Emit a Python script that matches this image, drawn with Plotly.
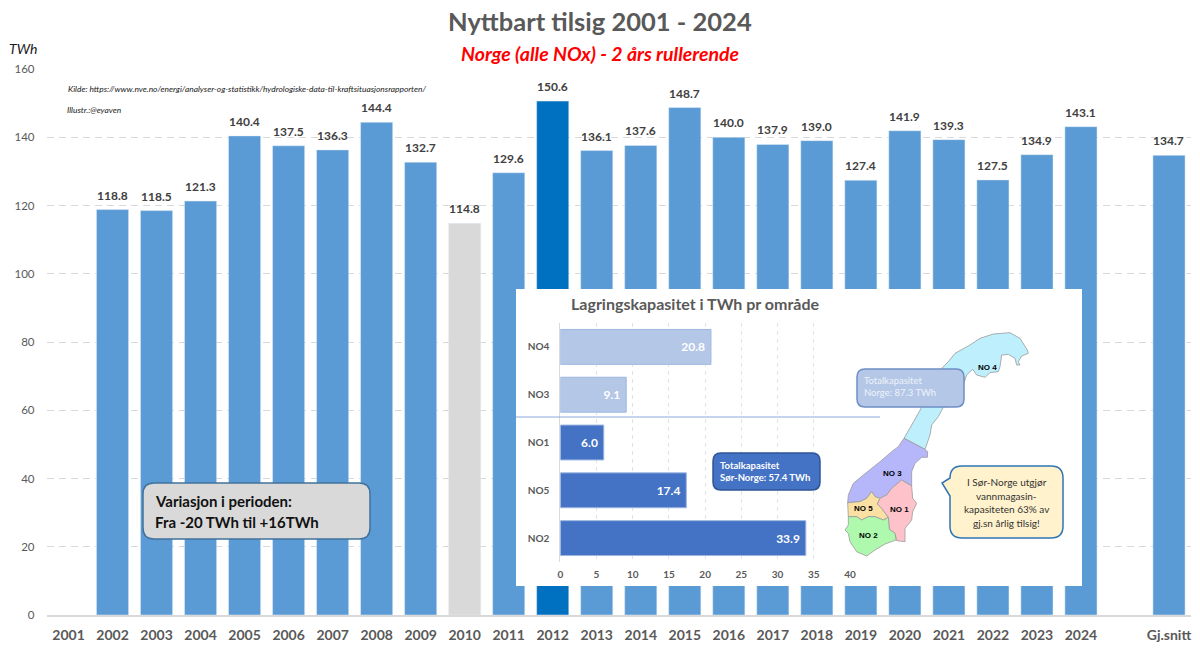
import plotly.graph_objects as go

W = 1200
H = 661

# main chart
years = [str(y) for y in range(2001, 2025)] + [" ", "Gj.snitt"]
tilsig = [None, 118.8, 118.5, 121.3, 140.4, 137.5, 136.3, 144.4, 132.7, 114.8, 129.6, 150.6,
          136.1, 137.6, 148.7, 140.0, 137.9, 139.0, 127.4, 141.9, 139.3, 127.5, 134.9, 143.1,
          None, 134.7]
y_ticks = [0, 20, 40, 60, 80, 100, 120, 140, 160]

# inset chart
areas = ["NO2", "NO5", "NO1", "NO3", "NO4"]
kapasitet = [33.9, 17.4, 6.0, 9.1, 20.8]
x_ticks_inset = [0, 5, 10, 15, 20, 25, 30, 35, 40]

BLUE = "#5b9bd5"
GREY = "#595959"


def bar_colour(year):
    if year == "2010":
        return "#d9d9d9"
    if year == "2012":
        return "#0070c0"
    return BLUE


def px(x):
    return x / W


def py(y):
    return 1 - y / H


def rounded(x0, y0, x1, y1, r):
    # rounded box, in picture pixels
    pts = f"M{px(x0 + r)},{py(y0)} L{px(x1 - r)},{py(y0)} Q{px(x1)},{py(y0)} {px(x1)},{py(y0 + r)} "
    pts += f"L{px(x1)},{py(y1 - r)} Q{px(x1)},{py(y1)} {px(x1 - r)},{py(y1)} "
    pts += f"L{px(x0 + r)},{py(y1)} Q{px(x0)},{py(y1)} {px(x0)},{py(y1 - r)} "
    pts += f"L{px(x0)},{py(y0 + r)} Q{px(x0)},{py(y0)} {px(x0 + r)},{py(y0)} Z"
    return pts


def box(x0, y0, x1, y1, r, fill, line):
    return dict(type="path", xref="paper", yref="paper", layer="above", path=rounded(x0, y0, x1, y1, r),
                fillcolor=fill, line=dict(color=line, width=1.5))


def map_pt(p):
    return 820 + p[0] / 3, 320 + p[1] / 3


def polygon(points, fill):
    xy = [map_pt(p) for p in points]
    path = "M" + " L".join(f"{px(x)},{py(y)}" for x, y in xy) + " Z"
    return dict(type="path", xref="paper", yref="paper", layer="above", path=path,
                fillcolor=fill, line=dict(color="#9a9a9a", width=0.8))


no4 = [(252, 355), (275, 315), (305, 262), (330, 235), (365, 145), (385, 125), (405, 100), (450, 75),
       (480, 55), (520, 42), (570, 38), (600, 55), (622, 90), (625, 100), (605, 108), (595, 125),
       (600, 135), (590, 135), (585, 115), (565, 103), (545, 105), (540, 140), (535, 155), (510, 158),
       (495, 172), (470, 165), (458, 148), (440, 165), (430, 195), (425, 230), (395, 255), (370, 262),
       (355, 290), (335, 315), (330, 345), (315, 388)]
no3 = [(252, 355), (315, 388), (323, 395), (322, 412), (305, 412), (285, 430), (275, 455), (275, 498),
       (245, 480), (215, 505), (200, 525), (180, 535), (165, 530), (155, 515), (140, 535), (120, 545),
       (83, 548), (85, 525), (100, 490), (130, 465), (180, 425), (215, 395), (235, 380)]
no5 = [(83, 548), (120, 545), (140, 535), (155, 515), (165, 530), (180, 535), (172, 552), (185, 565),
       (205, 592), (190, 600), (165, 590), (145, 590), (125, 600), (110, 590), (85, 590)]
no1 = [(180, 535), (200, 525), (215, 505), (245, 480), (275, 498), (278, 535), (290, 550), (278, 575),
       (275, 600), (255, 625), (255, 665), (230, 662), (225, 640), (208, 628), (205, 592), (185, 565),
       (172, 552)]
no2 = [(85, 590), (110, 590), (125, 600), (145, 590), (165, 590), (190, 600), (205, 592), (208, 628),
       (225, 640), (228, 660), (195, 672), (165, 690), (140, 708), (110, 695), (90, 665), (85, 640),
       (75, 630), (85, 615)]

# speech bubble
bx0, by0, bx1, by1, br = 950, 466, 1063, 538, 12
bubble = (f"M{px(bx0 + br)},{py(by0)} L{px(bx1 - br)},{py(by0)} Q{px(bx1)},{py(by0)} {px(bx1)},{py(by0 + br)} "
          f"L{px(bx1)},{py(by1 - br)} Q{px(bx1)},{py(by1)} {px(bx1 - br)},{py(by1)} "
          f"L{px(bx0 + br)},{py(by1)} Q{px(bx0)},{py(by1)} {px(bx0)},{py(by1 - br)} "
          f"L{px(bx0)},{py(496)} L{px(942)},{py(483)} L{px(bx0)},{py(by0 + br)} "
          f"Q{px(bx0)},{py(by0)} {px(bx0 + br)},{py(by0)} Z")

fig = go.Figure()

fig.add_trace(go.Bar(x=years, y=tilsig, marker=dict(color=[bar_colour(y) for y in years]),
                     hoverinfo="skip", showlegend=False))

# white panel behind the inset, has to sit above the main bars
fig.add_trace(go.Bar(x=["panel"], y=[1], width=1, marker=dict(color="white", line=dict(width=0)),
                     xaxis="x2", yaxis="y2", hoverinfo="skip", showlegend=False))

fig.add_trace(go.Bar(x=kapasitet, y=areas, orientation="h",
                     marker=dict(color=["#4472c4", "#4472c4", "#4472c4", "#b4c7e7", "#b4c7e7"],
                                 line=dict(color="#9db6e0", width=1)),
                     texttemplate="%{x:.1f}\u00a0", textposition="inside", insidetextanchor="end",
                     textangle=0, textfont=dict(family="Lato", size=12, color="white", weight="bold"),
                     xaxis="x3", yaxis="y3", hoverinfo="skip", showlegend=False))

shapes = [
    dict(type="line", xref="paper", yref="paper", layer="above", x0=px(516), x1=px(880), y0=py(417), y1=py(417),
         line=dict(color="#8faadc", width=1.2)),
    box(143, 483, 370, 539, 11, "#d9d9d9", "#41719c"),
    box(713, 453, 820, 490, 8, "#4472c4", "#2f5597"),
    polygon(no4, "#bdeffc"),
    polygon(no3, "#b6b6fb"),
    polygon(no5, "#fbe0a4"),
    polygon(no1, "#fec3ca"),
    polygon(no2, "#aef9ae"),
    box(857, 369, 964, 407, 8, "#b4c7e7", "#6f8fc5"),
    dict(type="path", xref="paper", yref="paper", layer="above", path=bubble,
         fillcolor="#fff2cc", line=dict(color="#2e75b6", width=1.5)),
]


def note(text, x, y, size, color=GREY, bold=False, italic=False, family="Lato", anchor="center", align="center"):
    return dict(text=text, xref="paper", yref="paper", x=px(x), y=py(y), xanchor=anchor, yanchor="middle",
                align=align, showarrow=False,
                font=dict(family=family, size=size, color=color, weight="bold" if bold else "normal",
                          style="italic" if italic else "normal"))


annotations = [
    note("Nyttbart tilsig 2001 - 2024", 600, 21, 25.5, bold=True),
    note("Norge (alle NOx) - 2 års rullerende", 600, 53, 19.5, color="#ff0000", bold=True, italic=True),
    note("TWh", 23, 48, 14, color="#1a1a1a", italic=True),
    note("Kilde: https://www.nve.no/energi/analyser-og-statistikk/hydrologiske-data-til-kraftsituasjonsrapporten/",
         66, 89, 8.4, color="#1a1a1a", italic=True, anchor="left"),
    note("Illustr.:@eyaven", 65, 110, 8.4, color="#1a1a1a", italic=True, anchor="left"),
    note("Variasjon i perioden:", 153, 501, 15, color="#111111", bold=True, anchor="left"),
    note("Fra -20 TWh til +16TWh", 153, 522, 15, color="#111111", bold=True, anchor="left"),
    note("Lagringskapasitet i TWh pr område", 695, 303, 16, bold=True),
    note("Totalkapasitet<br>Sør-Norge: 57.4 TWh", 718, 471, 9.5, color="white", bold=True, anchor="left", align="left"),
    note("Totalkapasitet<br>Norge: 87.3 TWh", 862, 387, 9.5, color="#eef2fa", anchor="left", align="left"),
    note("I Sør-Norge utgjør", 1007, 482, 10, color="#333333"),
    note("vannmagasin-", 1007, 496, 10, color="#333333"),
    note("kapasiteten 63% av", 1007, 509, 10, color="#333333"),
    note("gj.sn årlig tilsig!", 1007, 523, 10, color="#333333"),
    note("NO 4", 987, 367, 8, color="black", bold=True, family="Liberation Sans"),
    note("NO 3", 892, 473, 8, color="black", bold=True, family="Liberation Sans"),
    note("NO 5", 863, 508, 8, color="black", bold=True, family="Liberation Sans"),
    note("NO 1", 899, 509, 8, color="black", bold=True, family="Liberation Sans"),
    note("NO 2", 868, 535, 8, color="black", bold=True, family="Liberation Sans"),
]

# value labels sit a little clear of the bar tops; x is the category's position
for i, value in enumerate(tilsig):
    if value is not None:
        annotations.append(dict(text=f"{value:.1f}", x=i, y=value, xref="x", yref="y", yanchor="bottom",
                                yshift=5, showarrow=False,
                                font=dict(family="Lato", size=12, color="#404040", weight="bold")))

fig.update_layout(
    width=W, height=H, margin=dict(l=0, r=0, t=0, b=0, pad=0, autoexpand=False), autosize=False,
    paper_bgcolor="white", plot_bgcolor="rgba(0,0,0,0)", bargap=0.27, showlegend=False,
    font=dict(family="Lato"),
    xaxis=dict(domain=[px(46.5), px(1191)], type="category", categoryorder="array", categoryarray=years,
               showgrid=False, showline=True, linecolor="#d9d9d9", linewidth=1.5, ticks="",
               tickfont=dict(family="Lato", size=14, color=GREY, weight="bold"), ticklabelstandoff=6,
               tickmode="array", tickvals=years, ticktext=years, tickangle=0),
    yaxis=dict(domain=[py(615), py(69)], range=[0, 160], tickmode="array", tickvals=y_ticks,
               gridcolor="#d9d9d9", griddash="7px,5px", gridwidth=1, zeroline=False, showline=False,
               tickfont=dict(family="Lato", size=11.5, color=GREY), ticklabelstandoff=11),
    xaxis2=dict(domain=[px(516), px(1082)], anchor="y2", visible=False, fixedrange=True),
    yaxis2=dict(domain=[py(586), py(289)], anchor="x2", range=[0, 1], visible=False, fixedrange=True),
    xaxis3=dict(domain=[px(560.3), px(850)], anchor="y3", range=[0, 40], tickmode="array", tickvals=x_ticks_inset,
                gridcolor="#e3e3e3", griddash="4px,4px", gridwidth=1, zeroline=False, showline=False,
                tickfont=dict(family="Lato", size=10, color=GREY, weight="bold"), ticklabelstandoff=5),
    yaxis3=dict(domain=[py(562), py(323)], anchor="x3", type="category", categoryorder="array", categoryarray=areas,
                showgrid=False, showline=True, linecolor="#d9d9d9", linewidth=1, ticks="",
                tickfont=dict(family="Lato", size=10, color=GREY, weight="bold"), ticklabelstandoff=8),
    shapes=shapes,
    annotations=annotations,
)

# the page's default body margin would push the figure off the window
fig.write_html("out.html", config=dict(displayModeBar=False),
               post_script="document.body.style.margin='0';document.body.style.overflow='hidden';")
